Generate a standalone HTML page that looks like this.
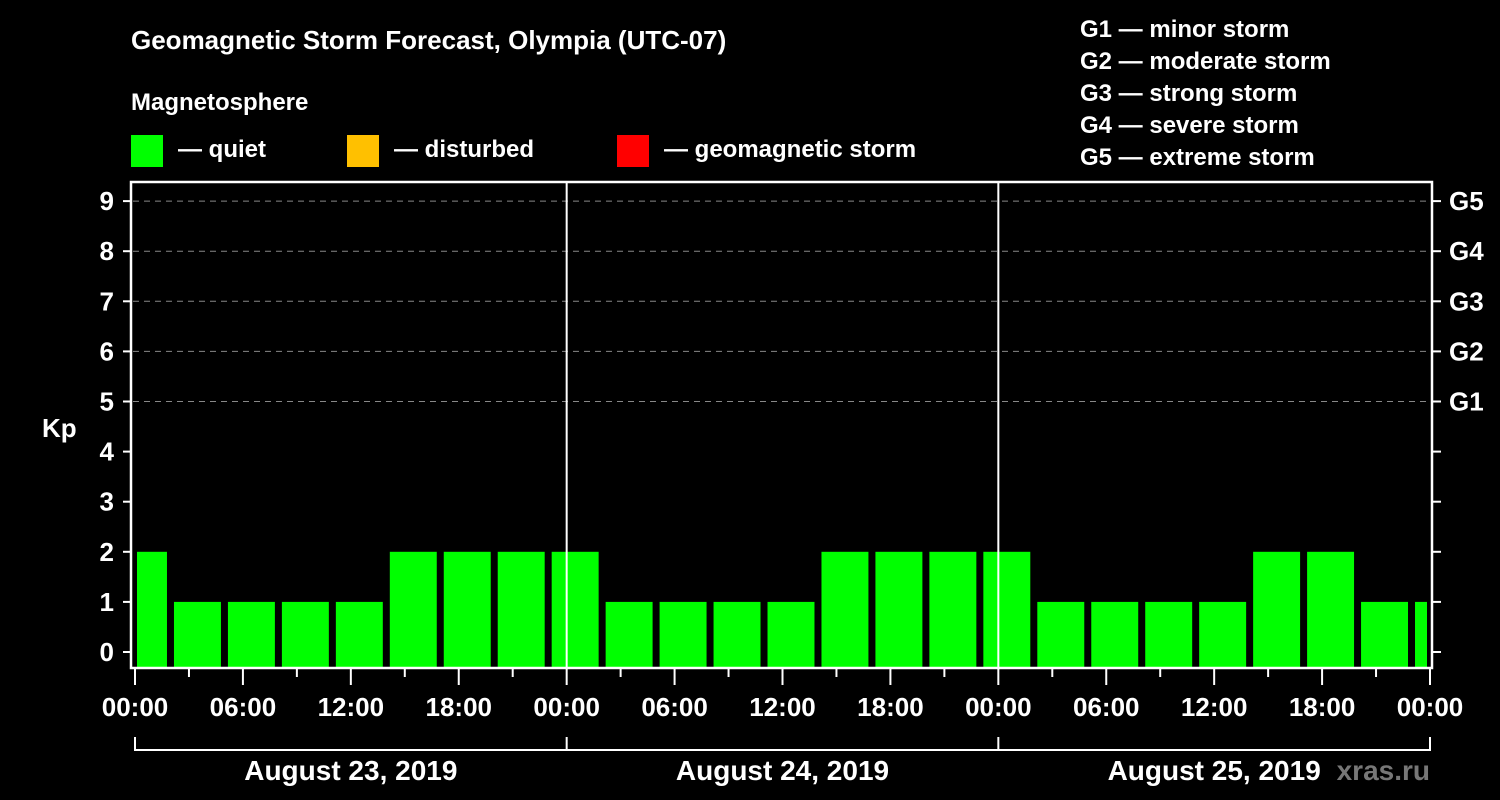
<!DOCTYPE html>
<html><head><meta charset="utf-8"><style>
html,body{margin:0;padding:0;background:#000;}
svg{display:block;font-family:"Liberation Sans",Arial,sans-serif;font-weight:bold;}
</style></head><body>
<svg id="c" width="1500" height="800" viewBox="0 0 1500 800">
<rect width="1500" height="800" fill="#000"/>
<text x="131" y="49" fill="#fff" font-size="26">Geomagnetic Storm Forecast, Olympia (UTC-07)</text>
<text x="131" y="110" fill="#fff" font-size="24">Magnetosphere</text>
<g><rect x="131" y="135" width="32" height="32" fill="#00ff00"/><text x="178" y="157" fill="#fff" font-size="24">— quiet</text></g>
<g><rect x="347" y="135" width="32" height="32" fill="#ffc000"/><text x="394" y="157" fill="#fff" font-size="24">— disturbed</text></g>
<g><rect x="617" y="135" width="32" height="32" fill="#ff0000"/><text x="664" y="157" fill="#fff" font-size="24">— geomagnetic storm</text></g>
<g fill="#fff" font-size="24">
<text x="1080" y="37">G1 — minor storm</text>
<text x="1080" y="69">G2 — moderate storm</text>
<text x="1080" y="101">G3 — strong storm</text>
<text x="1080" y="133">G4 — severe storm</text>
<text x="1080" y="165">G5 — extreme storm</text>
</g>
<text x="42" y="437" fill="#fff" font-size="26">Kp</text>
<g id="grid"></g><g id="bars"></g><g id="axes"></g>
<text x="1430" y="780" fill="#777" font-size="28" text-anchor="end">xras.ru</text>
</svg>
<script>
const kpValues=[2,1,1,1,1,2,2,2,2,1,1,1,1,2,2,2,2,1,1,1,1,2,2,1,1];
const slotStartHours=-1;
const dayLabels=["August 23, 2019","August 24, 2019","August 25, 2019"];
const hourTickLabels=["00:00","06:00","12:00","18:00"];
const gLabels=["G1","G2","G3","G4","G5"];
const NS="http://www.w3.org/2000/svg";
const X0=135,X1=1430,HOURS=72,Y0=652,PPK=50.1;
const xs=h=>X0+(X1-X0)*h/HOURS;
const ys=k=>Y0-PPK*k;
function mk(p,t,a){const e=document.createElementNS(NS,t);for(const k in a)e.setAttribute(k,a[k]);p.appendChild(e);return e;}
const grid=document.getElementById('grid'),bars=document.getElementById('bars'),axes=document.getElementById('axes');
for(let k=5;k<=9;k++){const l=mk(grid,'line',{x1:133,x2:1430,y1:ys(k),y2:ys(k),stroke:'#888','stroke-dasharray':'6,5','stroke-width':1});

}
kpValues.forEach((v,i)=>{const h=slotStartHours+3*i;let a=xs(h)+3,b=xs(h+3)-4;a=Math.max(a,137);b=Math.min(b,1427);
const r=mk(bars,'rect',{x:a,y:ys(v),width:b-a,height:668-ys(v),fill:v>=5?'#ff0000':v>=4?'#ffc000':'#00ff00'});

});
mk(axes,'rect',{x:131,y:182,width:1301,height:486,fill:'none',stroke:'#fff','stroke-width':2.5});
for(let d=1;d<3;d++)mk(axes,'line',{x1:xs(24*d),x2:xs(24*d),y1:182,y2:668,stroke:'#fff','stroke-width':2});
for(let k=0;k<=9;k++){mk(axes,'line',{x1:123,x2:131,y1:ys(k),y2:ys(k),stroke:'#fff','stroke-width':2});
mk(axes,'line',{x1:1432,x2:1441,y1:ys(k),y2:ys(k),stroke:'#fff','stroke-width':2});
const t=mk(axes,'text',{x:114,y:ys(k)+9,fill:'#fff','font-size':26,'text-anchor':'end'});t.textContent=k;

}
gLabels.forEach((g,i)=>{const t=mk(axes,'text',{x:1449,y:ys(5+i)+9,fill:'#fff','font-size':26});t.textContent=g;

});
for(let h=0;h<=72;h+=3){const maj=h%6===0;mk(axes,'line',{x1:xs(h),x2:xs(h),y1:669,y2:maj?685:677,stroke:'#fff','stroke-width':2});
if(maj){const t=mk(axes,'text',{x:xs(h),y:716,fill:'#fff','font-size':26,'text-anchor':'middle'});t.textContent=hourTickLabels[(h/6)%4];

}}
mk(axes,'polyline',{points:`${xs(0)},737 ${xs(0)},750 ${xs(72)},750 ${xs(72)},737`,fill:'none',stroke:'#fff','stroke-width':2});
for(let d=1;d<3;d++)mk(axes,'line',{x1:xs(24*d),x2:xs(24*d),y1:737,y2:750,stroke:'#fff','stroke-width':2});
dayLabels.forEach((s,d)=>{const t=mk(axes,'text',{x:xs(24*d+12),y:780,fill:'#fff','font-size':28,'text-anchor':'middle'});t.textContent=s;

});
</script>
</body></html>
